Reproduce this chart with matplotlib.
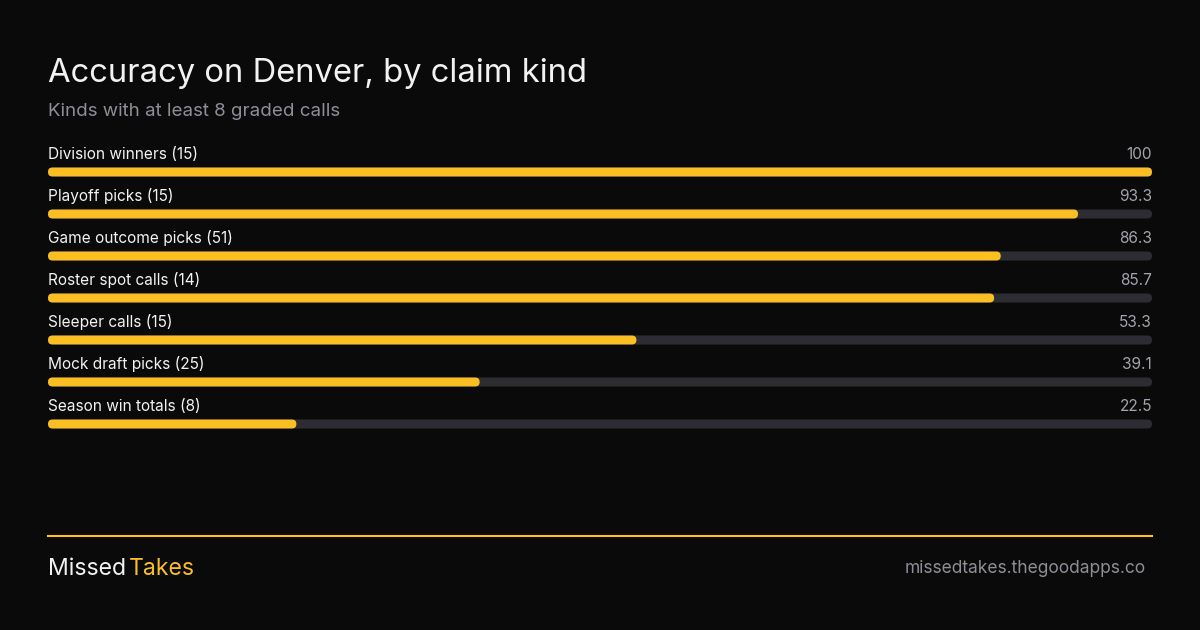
import matplotlib
matplotlib.use("Agg")
import matplotlib.pyplot as plt
from matplotlib.patches import FancyBboxPatch

# =========================
# DATA
# =========================
kinds = ["Division winners", "Playoff picks", "Game outcome picks", "Roster spot calls",
         "Sleeper calls", "Mock draft picks", "Season win totals"]
counts = [15, 15, 51, 14, 15, 25, 8]
accuracy = [100, 93.3, 86.3, 85.7, 53.3, 39.1, 22.5]
value_labels = ["100", "93.3", "86.3", "85.7", "53.3", "39.1", "22.5"]

title = "Accuracy on Denver, by claim kind"
subtitle = "Kinds with at least 8 graded calls"
site = "missedtakes.thegoodapps.co"

# =========================
# STYLE
# =========================
BG = "#0a0a0a"
YELLOW = "#fbbf24"
TRACK = "#2e2c33"
WHITE = "#f2f2f2"
GREY = "#8e8e96"
plt.rcParams["font.family"] = ["Inter", "DejaVu Sans"]

fig = plt.figure(figsize=(12, 6.3), dpi=100, facecolor=BG)

# title block
fig.text(48 / 1200, 1 - 82 / 630, title, fontsize=23.6, color=WHITE, ha="left", va="baseline")
fig.text(48 / 1200, 1 - 116 / 630, subtitle, fontsize=13.5, color=GREY, ha="left", va="baseline")

# =========================
# BARS
# =========================
ax = fig.add_axes([48 / 1200, 1 - 466 / 630, 1104 / 1200, 336 / 630])
ax.set_facecolor(BG)
ax.set_xlim(0, 100)
ax.set_ylim(7, -1)
ax.axis("off")

bar_h = 9 / 42           # row units
px_x = 1104 / 100        # pixels per x unit
px_y = 42                # pixels per row
r = 4.5 / px_x
aspect = (4.5 / px_y) / r

for i, (kind, n, v, lab) in enumerate(zip(kinds, counts, accuracy, value_labels)):
    ax.add_patch(FancyBboxPatch((0, i - bar_h / 2), 100, bar_h,
                                boxstyle=f"round,pad=0,rounding_size={r}",
                                mutation_aspect=aspect, fc=TRACK, ec="none"))
    ax.add_patch(FancyBboxPatch((0, i - bar_h / 2), v, bar_h,
                                boxstyle=f"round,pad=0,rounding_size={r}",
                                mutation_aspect=aspect, fc=YELLOW, ec="none"))
    ax.text(0, i - 0.31, f"{kind} ({n})", fontsize=11.1, color=WHITE, ha="left", va="baseline")
    ax.text(100, i - 0.31, lab, fontsize=11.1, color="#a3a3ab", ha="right", va="baseline")

# =========================
# FOOTER
# =========================
fig.add_artist(plt.Line2D([48 / 1200, 1152 / 1200], [1 - 536 / 630, 1 - 536 / 630],
                          color=YELLOW, lw=1.5))
t1 = fig.text(48 / 1200, 1 - 575 / 630, "Missed", fontsize=16.6, color=WHITE,
              ha="left", va="baseline")
plt.annotate("Takes", xy=(1, 0), xycoords=t1, xytext=(3, 0), textcoords="offset pixels",
             fontsize=16.6, color=YELLOW, ha="left", va="bottom",
             annotation_clip=False)
fig.text(1146 / 1200, 1 - 573 / 630, site, fontsize=12.5, color=GREY, ha="right", va="baseline")

fig.savefig("out.png", dpi=100, facecolor=BG)
